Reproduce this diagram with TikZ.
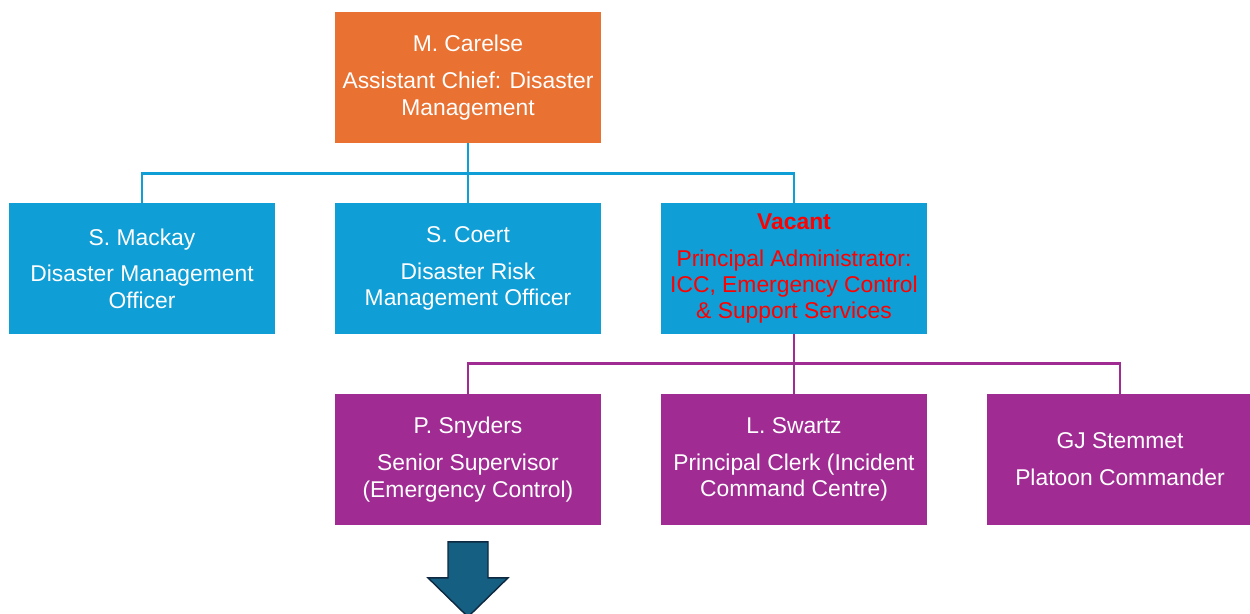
\documentclass[tikz,border=0pt]{standalone}
\usepackage{fontspec}
\setmainfont{Liberation Sans}
\usepackage{tikz}
\definecolor{accorange}{HTML}{E97132}
\definecolor{accblue}{HTML}{0F9ED5}
\definecolor{accpurple}{HTML}{A02B93}
\definecolor{accdark}{HTML}{156082}
\definecolor{accnavy}{HTML}{0E2841}
\tikzstyle{line} = [draw, line width=1.5pt]
\tikzstyle{post} = [rectangle, minimum width=5.32cm, minimum height=2.62cm, inner sep=0pt, align=center, text=white, font=\fontsize{13}{15}\selectfont, node distance=6.52cm]
\tikzstyle{chief} = [post, fill=accorange]
\tikzstyle{officer} = [post, fill=accblue]
\tikzstyle{staff} = [post, fill=accpurple]
\tikzstyle{blockarrow} = [draw=accnavy, fill=accdark, line width=0.8pt, line join=miter]
\begin{document}
\begin{tikzpicture}
		\useasboundingbox (0,0) rectangle (25,-12.26);
		\node[chief] (carelse) at (9.36,-1.55) {M. Carelse\\[6pt]Assistant Chief: Disaster\\Management};
		
		\node[officer, below of=carelse, node distance=3.82cm] (coert) {S. Coert\\[6pt]Disaster Risk\\Management Officer};
		\node[officer, left of=coert] (mackay) {S. Mackay\\[6pt]Disaster Management\\Officer};
		\node[officer, right of=coert, text=red] (vacant) {\textbf{Vacant}\\[6pt]Principal Administrator:\\ICC, Emergency Control\\\& Support Services};
		
		\path [line, draw=accblue] (carelse.south) -- ++(0,-0.6) -| (mackay.north);
		\path [line, draw=accblue] (carelse.south) -- (coert.north);
		\path [line, draw=accblue] (carelse.south) -- ++(0,-0.6) -| (vacant.north);
		
		\node[staff, below of=coert, node distance=3.82cm] (snyders) {P. Snyders\\[6pt]Senior Supervisor\\(Emergency Control)};
		\node[staff, right of=snyders] (swartz) {L. Swartz\\[6pt]Principal Clerk (Incident\\Command Centre)};
		\node[staff, right of=swartz] (stemmet) {GJ Stemmet\\[6pt]Platoon Commander};
		
		\path [line, draw=accpurple] (vacant.south) -- ++(0,-0.58) -| (snyders.north);
		\path [line, draw=accpurple] (vacant.south) -- (swartz.north);
		\path [line, draw=accpurple] (vacant.south) -- ++(0,-0.58) -| (stemmet.north);
		
		\draw [blockarrow] (snyders.south) ++(-0.4,-0.33) -- ++(0.8,0) -- ++(0,-0.72) -- ++(0.4,0) -- ++(-0.8,-0.78) -- ++(-0.8,0.78) -- ++(0.4,0) -- cycle;
		
\end{tikzpicture}
\end{document}
